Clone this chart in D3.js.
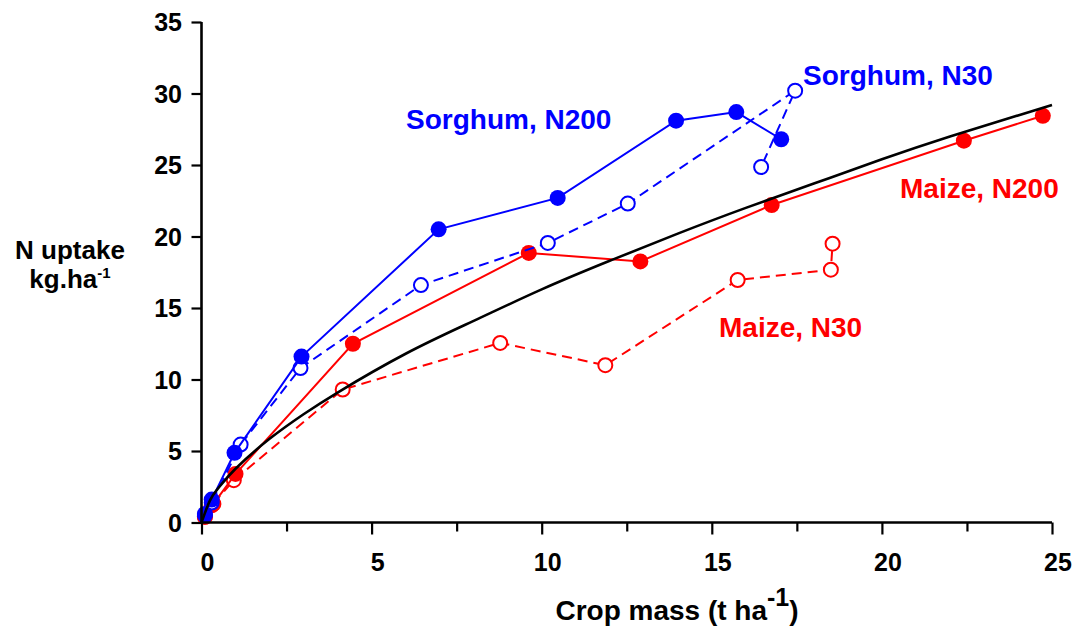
<!DOCTYPE html>
<html lang="en">
  <head>
    <meta charset="utf-8">
    <script src="https://cdn.jsdelivr.net/npm/d3@7"></script>
    <style>
      body { margin: 0; background: #fff; }
      svg text { font-family: "Liberation Sans", Arial, sans-serif; font-weight: bold; }
    </style>
    <title></title>
  </head>
  <body>
    <script>
      var width = 1076;
      var height = 628;

      // crop mass (t/ha) and N uptake, in sampling order
      var sorghumN200X = [0.1, 0.3, 0.97, 2.94, 6.97, 10.47, 13.95, 15.72, 17.04];
      var sorghumN200Y = [0.6, 1.6, 4.87, 11.6, 20.5, 22.7, 28.1, 28.7, 26.8];
      var sorghumN30X = [0.1, 0.3, 1.15, 2.91, 6.45, 10.18, 12.53, 17.45, 16.45];
      var sorghumN30Y = [0.5, 1.4, 5.45, 10.8, 16.6, 19.55, 22.3, 30.2, 24.86];
      var maizeN200X = [0.1, 0.35, 1.0, 4.45, 9.62, 12.9, 16.76, 22.41, 24.73];
      var maizeN200Y = [0.4, 1.3, 3.4, 12.5, 18.85, 18.26, 22.2, 26.7, 28.44];
      var maizeN30X = [0.1, 0.3, 0.95, 4.15, 8.78, 11.87, 15.76, 18.5, 18.55];
      var maizeN30Y = [0.4, 1.2, 2.96, 9.3, 12.56, 11.0, 16.96, 17.68, 19.5];

      // common curve
      var curveX = [0, 0.25, 0.5, 1, 2, 3, 4, 6, 8, 10, 12, 14, 16, 18, 20, 22, 25];
      var curveY = [0, 1.55, 2.42, 3.76, 5.85, 7.57, 9.09, 11.8, 14.1, 16.3, 18.3, 20.2, 22.0, 23.7, 25.4, 27.0, 29.2];

      var xTicks = [0, 5, 10, 15, 20, 25];
      var xMinorTicks = [2.5, 7.5, 12.5, 17.5, 22.5];
      var yTicks = [0, 5, 10, 15, 20, 25, 30, 35];

      var x = d3.scaleLinear().domain([0, 25]).range([201.5, 1052]);
      var y = d3.scaleLinear().domain([0, 35]).range([522.5, 22]);

      var svg = d3.select("body").append("svg").attr("width", width).attr("height", height);

      function pairs(xs, ys) {
        return xs.map(function(d, i) { return [d, ys[i]]; });
      }

      var series = [
        {pts: pairs(maizeN30X, maizeN30Y), color: "#ff0000", open: true},
        {pts: pairs(maizeN200X, maizeN200Y), color: "#ff0000", open: false},
        {pts: pairs(sorghumN30X, sorghumN30Y), color: "#0000ff", open: true},
        {pts: pairs(sorghumN200X, sorghumN200Y), color: "#0000ff", open: false}
      ];

      var line = d3.line().x(function(d){ return x(d[0]); }).y(function(d){ return y(d[1]); });

      series.forEach(function(s) {
        var g = svg.append("g");
        g.append("path")
          .attr("d", line(s.pts))
          .attr("fill", "none")
          .attr("stroke", s.color)
          .attr("stroke-width", 2)
          .attr("stroke-dasharray", s.open ? "10,6" : null);
        g.selectAll("circle")
          .data(s.pts)
          .enter().append("circle")
            .attr("cx", function(d){ return x(d[0]); })
            .attr("cy", function(d){ return y(d[1]); })
            .attr("r", s.open ? 7 : 8)
            .attr("fill", s.open ? "#fff" : s.color)
            .attr("stroke", s.open ? s.color : "none")
            .attr("stroke-width", 2);
      });

      // fitted curve on top
      svg.append("path")
        .attr("d", d3.line().curve(d3.curveNatural)
          .x(function(d){ return x(d[0]); }).y(function(d){ return y(d[1]); })(pairs(curveX, curveY)))
        .attr("fill", "none")
        .attr("stroke", "#000")
        .attr("stroke-width", 2.6);

      // axes
      var xAxis = svg.append("g").attr("transform", "translate(0," + y(0) + ")")
        .call(d3.axisBottom(x).tickValues(xTicks).tickSize(12).tickFormat(""));
      svg.append("g").attr("transform", "translate(0," + y(0) + ")")
        .call(d3.axisBottom(x).tickValues(xMinorTicks).tickSize(9).tickFormat(""))
        .select(".domain").remove();
      var yAxis = svg.append("g").attr("transform", "translate(" + x(0) + ",0)")
        .call(d3.axisLeft(y).tickValues(yTicks).tickSize(10).tickFormat(""));

      xAxis.select(".domain").attr("d", "M" + x(0) + ",0H" + x(25)).attr("stroke-width", 2.6);
      yAxis.select(".domain").attr("d", "M0," + y(35) + "V" + y(0)).attr("stroke-width", 2.6);
      svg.selectAll(".tick line").attr("stroke-width", 2.2);

      svg.append("g").selectAll("text")
        .data(xTicks)
        .enter().append("text")
          .attr("x", function(d){ return x(d) + 6; })
          .attr("y", 571)
          .attr("text-anchor", "middle")
          .attr("font-size", 25)
          .text(function(d){ return d; });

      svg.append("g").selectAll("text")
        .data(yTicks)
        .enter().append("text")
          .attr("x", 182)
          .attr("y", function(d){ return y(d) + 9; })
          .attr("text-anchor", "end")
          .attr("font-size", 25)
          .text(function(d){ return d; });

      // axis titles
      var xt = svg.append("text").attr("x", 677).attr("y", 620)
        .attr("text-anchor", "middle").attr("font-size", 28);
      xt.append("tspan").text("Crop mass (t ha");
      xt.append("tspan").attr("dy", -14).attr("font-size", 25).text("-1");
      xt.append("tspan").attr("dy", 14).text(")");

      svg.append("text").attr("x", 70).attr("y", 259)
        .attr("text-anchor", "middle").attr("font-size", 26).text("N uptake");
      var yt = svg.append("text").attr("x", 70).attr("y", 288)
        .attr("text-anchor", "middle").attr("font-size", 26);
      yt.append("tspan").text("kg.ha");
      yt.append("tspan").attr("dy", -10).attr("font-size", 15).text("-1");

      // series labels
      var labels = [
        {t: "Sorghum, N200", x: 406, y: 129, c: "#0000ff"},
        {t: "Sorghum, N30", x: 803, y: 85, c: "#0000ff"},
        {t: "Maize, N200", x: 900, y: 198, c: "#ff0000"},
        {t: "Maize, N30", x: 719, y: 337, c: "#ff0000"}
      ];
      svg.append("g").selectAll("text")
        .data(labels)
        .enter().append("text")
          .attr("x", function(d){ return d.x; })
          .attr("y", function(d){ return d.y; })
          .attr("fill", function(d){ return d.c; })
          .attr("font-size", 28)
          .text(function(d){ return d.t; });
    </script>
  </body>
</html>
